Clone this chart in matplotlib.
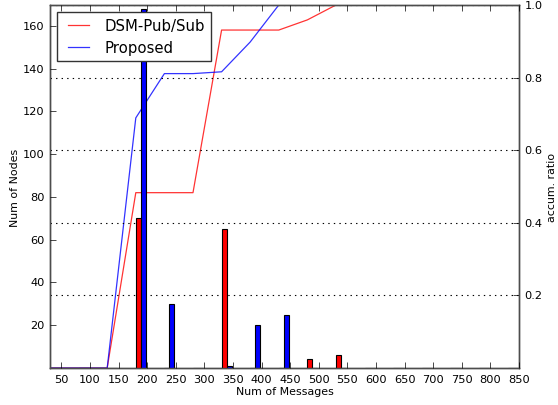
import matplotlib
matplotlib.use("Agg")
import matplotlib.pyplot as plt

plt.style.use("classic")
plt.rcParams["font.family"] = ["DejaVu Sans"]

# bin left edges (Num of Messages)
bin_edges = [30, 80, 130, 180, 230, 280, 330, 380, 430, 480, 530, 580, 630, 680, 730, 780, 830]
dsm_counts = [0, 0, 0, 70, 0, 0, 65, 0, 0, 4, 6, 0, 0, 0, 0, 0, 0]
prop_counts = [0, 0, 0, 168, 30, 0, 1, 20, 25, 0, 0, 0, 0, 0, 0, 0, 0]

# accumulated ratio lines
ratio_x = [30, 80, 130, 180, 230, 280, 330, 380, 430, 480, 530, 580, 630, 680, 730, 780, 830, 880]
dsm_ratio = [0, 0, 0, 0.483, 0.483, 0.483, 0.931, 0.931, 0.931, 0.959, 1.0, 1.0, 1.0, 1.0, 1.0, 1.0, 1.0, 1.0]
prop_ratio = [0, 0, 0, 0.689, 0.811, 0.811, 0.816, 0.898, 1.0, 1.0, 1.0, 1.0, 1.0, 1.0, 1.0, 1.0, 1.0, 1.0]

xticks = list(range(50, 851, 50))
left_ticks = [20, 40, 60, 80, 100, 120, 140, 160]
right_ticks = [0.2, 0.4, 0.6, 0.8, 1.0]

fig = plt.figure(figsize=(5.58, 4.06), dpi=100, facecolor="white")
ax = fig.add_axes([50 / 558, 37 / 406, 469 / 558, 363 / 406])
ax2 = ax.twinx()
ax.set_zorder(ax2.get_zorder() + 1)
ax.patch.set_visible(False)

bw = 8.75
ax.bar(bin_edges, dsm_counts, width=bw, align="edge", color="r", edgecolor="k", linewidth=0.8)
ax.bar([e + bw for e in bin_edges], prop_counts, width=bw, align="edge", color="b", edgecolor="k", linewidth=0.8)

l1, = ax2.plot(ratio_x, dsm_ratio, color="r", lw=0.9, alpha=0.8, label="DSM-Pub/Sub")
l2, = ax2.plot(ratio_x, prop_ratio, color="b", lw=0.9, alpha=0.8, label="Proposed")

ax.set_xlim(30, 850)
ax.set_ylim(0, 169.7)
ax2.set_ylim(0, 1.0)
ax.set_xticks(xticks)
ax.set_yticks(left_ticks)
ax2.set_yticks(right_ticks)
ax2.yaxis.grid(True, linestyle=":", color="k", linewidth=0.8)
ax.xaxis.grid(False)
ax.yaxis.grid(False)

for a in (ax, ax2):
    a.tick_params(labelsize=8.2, direction="in")
    for s in a.spines.values():
        s.set_color("0.3")

ax.set_xlabel("Num of Messages", fontsize=7.9, labelpad=2)
ax.set_ylabel("Num of Nodes", fontsize=7.9, labelpad=2)
ax2.set_ylabel("accum. ratio", fontsize=7.9, labelpad=3)

leg = ax.legend([l1, l2], ["DSM-Pub/Sub", "Proposed"], loc="upper left", fontsize=10.7,
                fancybox=False, shadow=False, handlelength=2, handletextpad=0.8,
                borderpad=0.4, labelspacing=0.45, borderaxespad=0.5)
leg.get_frame().set_edgecolor("0.2")
leg.get_frame().set_linewidth(1.0)

fig.savefig("out.png", dpi=100, facecolor="white")
